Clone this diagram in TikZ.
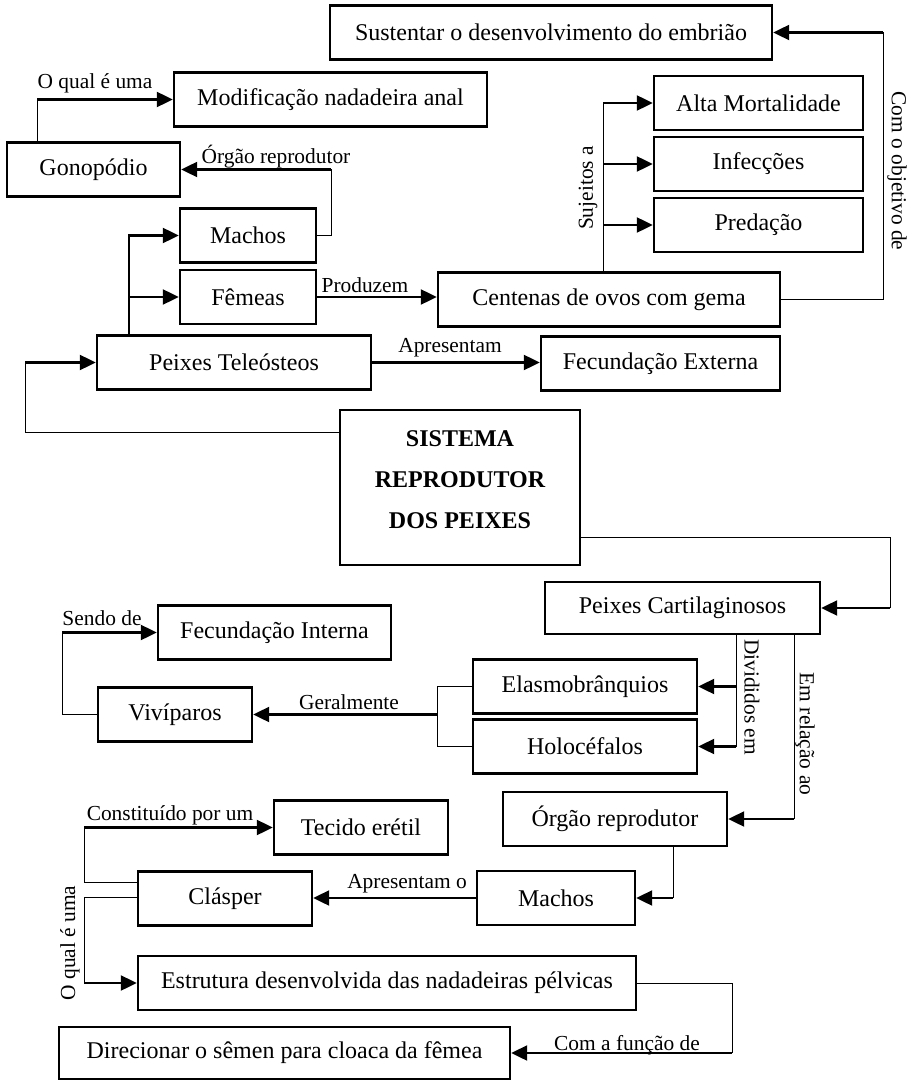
\documentclass[tikz,border=0pt]{standalone}
\usepackage{fontspec}
\setmainfont{Liberation Serif}
\usetikzlibrary{arrows.meta}

\begin{document}
\begin{tikzpicture}[x=0.5pt,y=-0.5pt,
  caixa/.style={draw,line width=1.2pt,minimum height=27pt,inner sep=2pt,
    font=\fontsize{12}{14}\selectfont},
  rotulo/.style={inner sep=1pt,font=\fontsize{10.7}{12}\selectfont},
  fino/.style={line width=0.5pt},
  seta/.style={line width=1.1pt,-{Triangle[length=8pt,width=7.5pt]}}]
  \fill[white] (0,0) rectangle (915,1080);
  \useasboundingbox (0,0) rectangle (915,1080);

  \node[caixa,minimum width=221pt] (sust) at (551,32.5) {Sustentar o desenvolvimento do embrião};
  \node[caixa,minimum width=156.5pt] (modif) at (330.5,99.5) {Modificação nadadeira anal};
  \node[caixa,minimum width=86.5pt] (gono) at (93.5,169.5) {Gonopódio};
  \node[caixa,minimum width=104.5pt] (alta) at (758.5,103) {Alta Mortalidade};
  \node[caixa,minimum width=104.5pt] (infec) at (758.5,164) {Infecções};
  \node[caixa,minimum width=104.5pt] (preda) at (758.5,225) {Predação};
  \node[caixa,minimum width=68pt] (machosT) at (248,235.5) {Machos};
  \node[caixa,minimum width=68pt] (femeas) at (248,297) {Fêmeas};
  \node[caixa,minimum width=171pt] (ovos) at (609,299.5) {Centenas de ovos com gema};
  \node[caixa,minimum width=137pt] (teleo) at (234,362.5) {Peixes Teleósteos};
  \node[caixa,minimum width=119.5pt] (fecext) at (660.5,363.5) {Fecundação Externa};
  \node[caixa,minimum width=120pt,minimum height=77.5pt,align=center,text depth=8pt,
    font=\bfseries\fontsize{12}{20.5}\selectfont] (sis) at (460,487.5) {SISTEMA\\REPRODUTOR\\DOS PEIXES};
  \node[caixa,minimum width=137.5pt,minimum height=26pt] (cartil) at (682.5,608) {Peixes Cartilaginosos};
  \node[caixa,minimum width=116.5pt] (fecint) at (274.5,632.5) {Fecundação Interna};
  \node[caixa,minimum width=77pt] (vivi) at (175,714.5) {Vivíparos};
  \node[caixa,minimum width=112pt] (elasmo) at (585,686.5) {Elasmobrânquios};
  \node[caixa,minimum width=112pt] (holo) at (585,746.5) {Holocéfalos};
  \node[caixa,minimum width=112pt] (orgao) at (615,819) {Órgão reprodutor};
  \node[caixa,minimum width=87pt] (tecido) at (361,827.5) {Tecido erétil};
  \node[caixa,minimum width=79pt] (machosC) at (556,898) {Machos};
  \node[caixa,minimum width=87pt] (clasper) at (225,898.5) {Clásper};
  \node[caixa,minimum width=249pt] (estrut) at (387,983) {Estrutura desenvolvida das nadadeiras pélvicas};
  \node[caixa,minimum width=225.5pt,minimum height=26pt] (direc) at (284.5,1053) {Direcionar o sêmen para cloaca da fêmea};

  \coordinate (k1) at (37,0);
  \coordinate (k2) at (331,0);
  \coordinate (k3) at (129,0);
  \coordinate (k4) at (603,0);
  \coordinate (k5) at (883,0);
  \coordinate (k6) at (25,432);
  \coordinate (k7) at (890,537);
  \coordinate (k8) at (736,0);
  \coordinate (k9) at (794,0);
  \coordinate (k10) at (437,0);
  \coordinate (k11) at (62,0);
  \coordinate (k12) at (673,0);
  \coordinate (k13) at (84,882);
  \coordinate (k14) at (84,897);
  \coordinate (k15) at (732,0);

  \draw[fino] (gono.north -| k1) -- (k1 |- modif.west);
  \draw[seta] (k1 |- modif.west) -- (modif.west);
  \draw[fino] (machosT.east) -| (k2 |- gono.east);
  \draw[seta] (k2 |- gono.east) -- (gono.east);
  \draw[seta] (teleo.north -| k3) |- (machosT.west);
  \draw[seta] (k3 |- femeas.west) -- (femeas.west);
  \draw[seta] (femeas.east) -- (femeas.east -| ovos.west);
  \draw[fino] (ovos.north -| k4) -- (k4 |- alta.west);
  \foreach \n in {alta,infec,preda}
    \draw[seta] (k4 |- \n.west) -- (\n.west);
  \draw[fino] (ovos.east) -| (k5 |- sust.east);
  \draw[seta] (k5 |- sust.east) -- (sust.east);
  \draw[seta] (teleo.east) -- (teleo.east -| fecext.west);
  \draw[fino] (sis.west |- k6) -| (k6 |- teleo.west);
  \draw[seta] (k6 |- teleo.west) -- (teleo.west);
  \draw[fino] (sis.east |- k7) -| (k7 |- cartil.east);
  \draw[seta] (k7 |- cartil.east) -- (cartil.east);
  \draw[fino] (cartil.south -| k8) -- (k8 |- holo.east);
  \foreach \n in {elasmo,holo}
    \draw[seta] (k8 |- \n.east) -- (\n.east);
  \draw[fino] (cartil.south -| k9) -- (k9 |- orgao.east);
  \draw[seta] (k9 |- orgao.east) -- (orgao.east);
  \draw[fino] (elasmo.west) -- (k10 |- elasmo.west) -- (k10 |- holo.west) -- (holo.west);
  \draw[seta] (k10 |- vivi.east) -- (vivi.east);
  \draw[fino] (vivi.west) -| (k11 |- fecint.west);
  \draw[seta] (k11 |- fecint.west) -- (fecint.west);
  \draw[fino] (orgao.south -| k12) -- (k12 |- machosC.east);
  \draw[seta] (k12 |- machosC.east) -- (machosC.east);
  \draw[seta] (machosC.west) -- (machosC.west -| clasper.east);
  \draw[fino] (clasper.west |- k13) -| (k13 |- tecido.west);
  \draw[seta] (k13 |- tecido.west) -- (tecido.west);
  \draw[fino] (clasper.west |- k14) -| (k14 |- estrut.west);
  \draw[seta] (k14 |- estrut.west) -- (estrut.west);
  \draw[fino] (estrut.east) -| (k15 |- direc.east);
  \draw[seta] (k15 |- direc.east) -- (direc.east);

  \node[rotulo] (r1) at (95,83) {O qual é uma};
  \node[rotulo] (r2) at (276,157) {Órgão reprodutor};
  \node[rotulo] (r3) at (365,285) {Produzem};
  \node[rotulo,rotate=90] (r4) at (588,188) {Sujeitos a};
  \node[rotulo,rotate=-90] (r5) at (897,171) {Com o objetivo de};
  \node[rotulo] (r6) at (450,348) {Apresentam};
  \node[rotulo] (r7) at (102,618) {Sendo de};
  \node[rotulo] (r8) at (349,702) {Geralmente};
  \node[rotulo,rotate=-90] (r9) at (752,697) {Divididos em};
  \node[rotulo,rotate=-90] (r10) at (805,734) {Em relação ao};
  \node[rotulo] (r11) at (170,815) {Constituído por um};
  \node[rotulo] (r12) at (407,884) {Apresentam o};
  \node[rotulo,rotate=90] (r13) at (70,943) {O qual é uma};
  \node[rotulo] (r14) at (627,1045) {Com a função de};
\end{tikzpicture}
\end{document}
